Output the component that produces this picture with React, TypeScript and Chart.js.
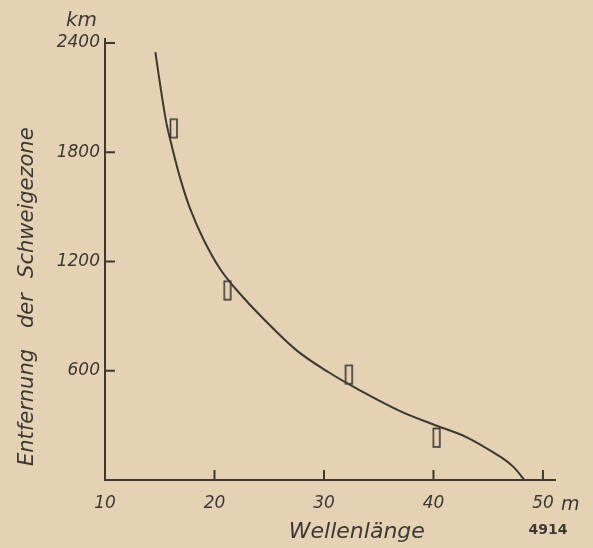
import React, { useEffect, useRef } from "react";
import { Chart, registerables } from "chart.js";

Chart.register(...registerables);

// Curve (Wellenlänge in m -> Entfernung der Schweigezone in km)
const curveX = [14.6, 15.1, 15.6, 16.1, 16.9, 17.8, 19.0, 20.5, 22.0, 24.4, 27.5, 30.5, 33.0, 36.9, 40.0, 43.0, 46.1, 47.3, 48.3];
const curveY = [2350, 2146, 1963, 1834, 1651, 1486, 1321, 1160, 1045, 890, 712, 589, 502, 380, 305, 236, 128, 72, 0];

// Measured points (rectangles)
const markX = [16.3, 21.2, 32.3, 40.3];
const markY = [1930, 1040, 578, 231];

const xTicks = [10, 20, 30, 40, 50];
const yTicks = [600, 1200, 1800, 2400];

const xTitle = "Wellenlänge";
const yTitleWords = ["Entfernung", "der", "Schweigezone"];
const xUnit = "m";
const yUnit = "km";
const figNo = "4914";

const BG = "rgb(229,209,180)";
const INK = "rgb(62,56,52)";
const FONT = '"DejaVu Sans", sans-serif';

function makeRectMarker(): HTMLCanvasElement {
  const c = document.createElement("canvas");
  c.width = 10;
  c.height = 22;
  const g = c.getContext("2d")!;
  g.strokeStyle = INK;
  g.lineWidth = 1.6;
  g.strokeRect(1.5, 1.5, 6.5, 18.5);
  return c;
}

const decorPlugin = {
  id: "decor",
  beforeDraw(chart: any) {
    const { ctx, width, height } = chart;
    ctx.save();
    ctx.fillStyle = BG;
    ctx.fillRect(0, 0, width, height);
    ctx.restore();
  },
  afterDraw(chart: any) {
    const { ctx, chartArea } = chart;
    const xs = chart.scales.x;
    const ys = chart.scales.y;
    ctx.save();
    ctx.strokeStyle = INK;
    ctx.lineWidth = 2;
    // inward tick marks
    xTicks.forEach((v) => {
      if (v === xs.min) return;
      const px = xs.getPixelForValue(v);
      ctx.beginPath();
      ctx.moveTo(px, chartArea.bottom);
      ctx.lineTo(px, chartArea.bottom - 10);
      ctx.stroke();
    });
    yTicks.forEach((v) => {
      const py = ys.getPixelForValue(v);
      ctx.beginPath();
      ctx.moveTo(chartArea.left, py);
      ctx.lineTo(chartArea.left + 10, py);
      ctx.stroke();
    });
    // extend y axis slightly above top tick
    ctx.beginPath();
    ctx.moveTo(chartArea.left, chartArea.top);
    ctx.lineTo(chartArea.left, chartArea.top - 5);
    ctx.stroke();

    ctx.fillStyle = INK;
    // unit labels
    ctx.font = `italic 20px ${FONT}`;
    ctx.textAlign = "right";
    ctx.textBaseline = "middle";
    ctx.fillText(yUnit, chartArea.left - 8, ys.getPixelForValue(2400) - 22);
    ctx.font = `italic 19px ${FONT}`;
    ctx.textAlign = "left";
    ctx.fillText(xUnit, xs.getPixelForValue(50) + 18, chartArea.bottom + 25);
    // figure number
    ctx.font = `bold 14px ${FONT}`;
    ctx.textAlign = "center";
    ctx.fillText(figNo, xs.getPixelForValue(50) + 5, chartArea.bottom + 50);
    // x title
    ctx.font = `italic 22px ${FONT}`;
    ctx.textAlign = "center";
    ctx.fillText(xTitle, xs.getPixelForValue(33), chartArea.bottom + 52);
    // y title (rotated, words spread)
    ctx.font = `italic 21px ${FONT}`;
    ctx.translate(28, 0);
    ctx.rotate(-Math.PI / 2);
    ctx.textAlign = "left";
    const starts = [ys.getPixelForValue(77), ys.getPixelForValue(835), ys.getPixelForValue(1110)];
    yTitleWords.forEach((w, i) => {
      ctx.fillText(w, -starts[i], 0);
    });
    ctx.restore();
  },
};

export default function App() {
  const ref = useRef<HTMLCanvasElement | null>(null);

  useEffect(() => {
    document.body.style.margin = "0";
    document.body.style.background = BG;
    const canvas = ref.current!;
    const marker = makeRectMarker();
    const chart = new Chart(canvas, {
      type: "scatter",
      data: {
        datasets: [
          {
            data: curveX.map((x, i) => ({ x, y: curveY[i] })),
            showLine: true,
            borderColor: INK,
            borderWidth: 2,
            pointRadius: 0,
            tension: 0.35,
            fill: false,
          } as any,
          {
            data: markX.map((x, i) => ({ x, y: markY[i] })),
            showLine: false,
            pointStyle: marker,
            pointRadius: 6,
          } as any,
        ],
      },
      options: {
        animation: false,
        responsive: false,
        events: [],
        layout: { padding: { top: 43, right: 38, left: 0, bottom: 0 } },
        plugins: { legend: { display: false }, tooltip: { enabled: false } },
        scales: {
          x: {
            type: "linear",
            min: 10,
            max: 51.1,
            afterBuildTicks: (s: any) => {
              s.ticks = xTicks.map((v) => ({ value: v }));
            },
            afterFit: (s: any) => {
              s.height = 68;
            },
            grid: { display: false, drawTicks: false },
            border: { display: true, color: INK, width: 2 },
            ticks: {
              color: INK,
              font: { family: FONT, size: 17, style: "italic" },
              padding: 13,
              maxRotation: 0,
              autoSkip: false,
              callback: (v: any) => String(v),
            },
          },
          y: {
            type: "linear",
            min: 0,
            max: 2400,
            afterBuildTicks: (s: any) => {
              s.ticks = yTicks.map((v) => ({ value: v }));
            },
            afterFit: (s: any) => {
              s.width = 105;
            },
            grid: { display: false, drawTicks: false },
            border: { display: true, color: INK, width: 2 },
            ticks: {
              color: INK,
              font: { family: FONT, size: 17, style: "italic" },
              padding: 5,
              autoSkip: false,
              callback: (v: any) => String(v),
            },
          },
        },
      },
      plugins: [decorPlugin],
    });
    return () => chart.destroy();
  }, []);

  return (
    <div style={{ width: 593, height: 548 }}>
      <canvas ref={ref} width={593} height={548} style={{ display: "block" }} />
    </div>
  );
}
